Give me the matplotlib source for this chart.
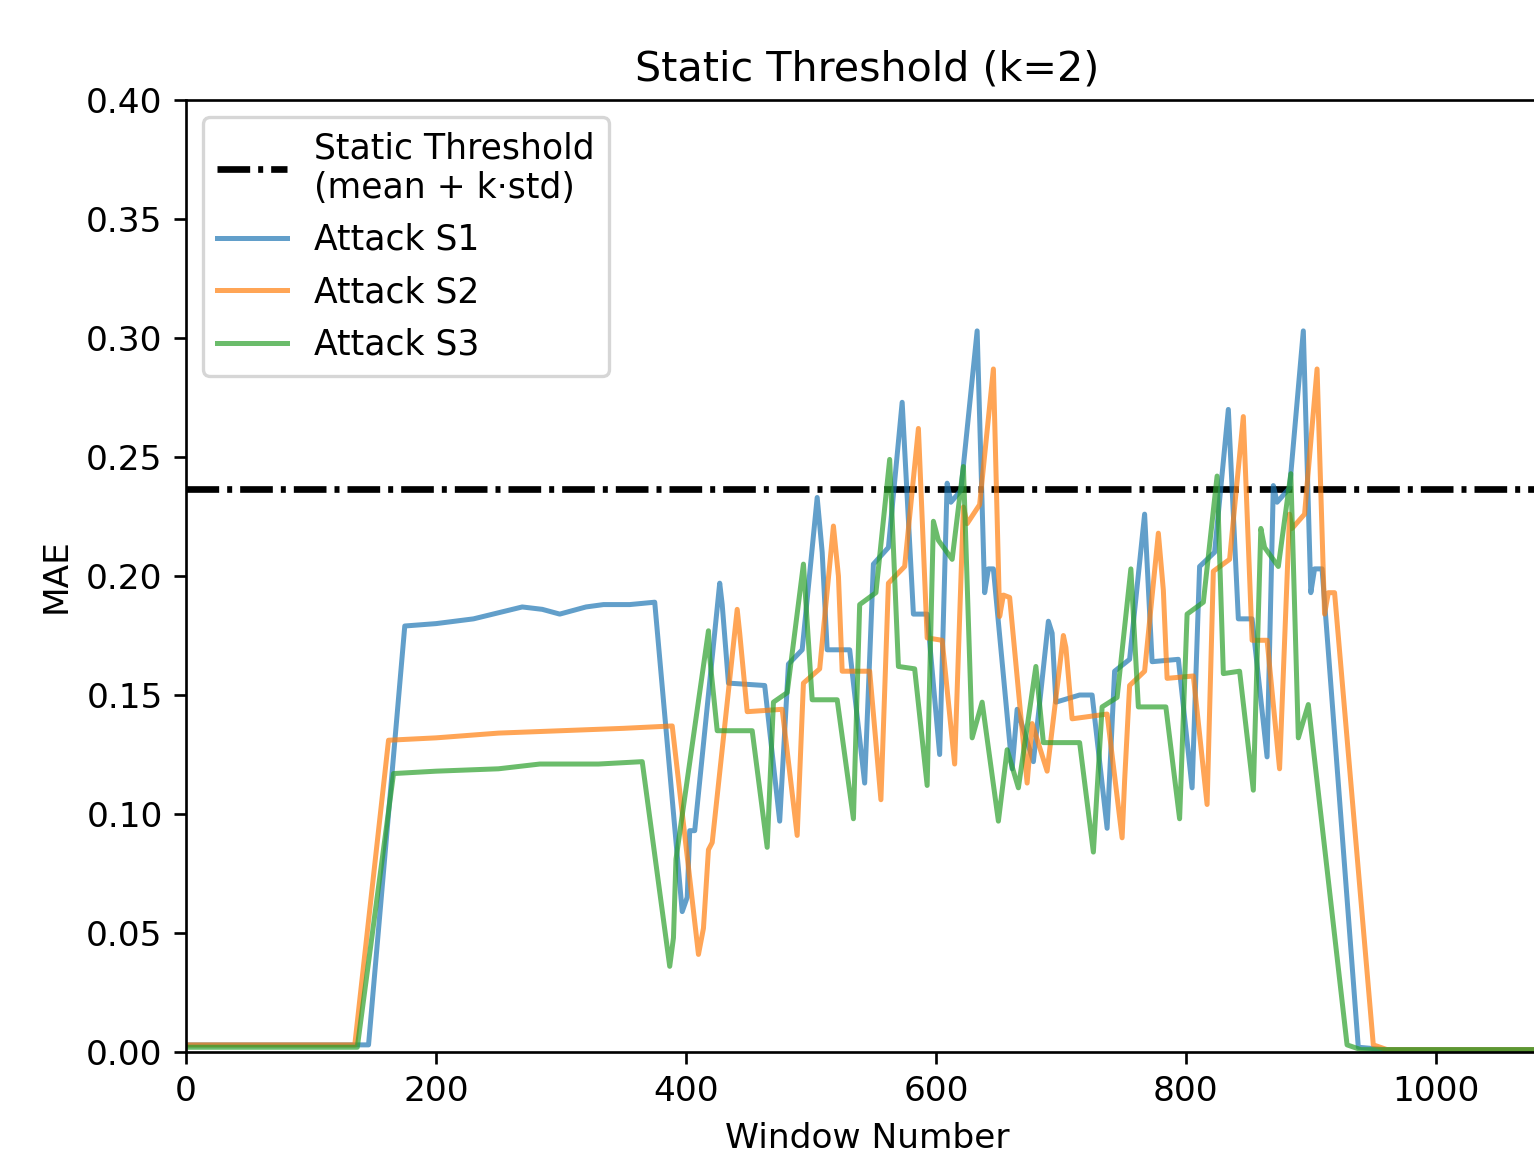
import matplotlib
matplotlib.use("Agg")
import matplotlib.pyplot as plt

# ---------------- DATA ----------------
threshold = 0.2366

s1_x = [0, 146, 175, 200, 230, 269, 285, 299, 320, 334, 355, 375, 397, 401, 403, 407,
        427, 429, 434, 463, 475, 482, 493, 505, 509, 513, 531, 543, 550, 562, 573, 582,
        593, 603, 609, 612, 620, 633, 639, 642, 646, 661, 665, 678, 690, 693, 696, 715,
        725, 737, 743, 755, 767, 773, 794, 805, 811, 823, 834, 842, 853, 865, 870, 873,
        883, 894, 900, 903, 909, 938, 960, 1089]
s1_y = [0.003, 0.003, 0.179, 0.180, 0.182, 0.187, 0.186, 0.184, 0.187, 0.188, 0.188, 0.189,
        0.059, 0.065, 0.093, 0.093, 0.197, 0.188, 0.155, 0.154, 0.097, 0.163, 0.169, 0.233,
        0.210, 0.169, 0.169, 0.113, 0.205, 0.212, 0.273, 0.184, 0.184, 0.125, 0.239, 0.231,
        0.236, 0.303, 0.193, 0.203, 0.203, 0.119, 0.144, 0.122, 0.181, 0.176, 0.147, 0.150,
        0.150, 0.094, 0.160, 0.165, 0.226, 0.164, 0.165, 0.111, 0.204, 0.210, 0.270, 0.182,
        0.182, 0.124, 0.238, 0.231, 0.237, 0.303, 0.193, 0.203, 0.203, 0.002, 0.001, 0.001]

s2_x = [0, 135, 162, 200, 250, 300, 350, 389, 410, 414, 418, 421, 441, 443, 449, 477,
        489, 494, 507, 518, 522, 525, 547, 556, 562, 575, 586, 593, 605, 615, 622, 625,
        635, 646, 651, 654, 659, 673, 677, 689, 702, 704, 709, 737, 749, 751, 755, 767,
        778, 782, 785, 806, 817, 822, 835, 846, 853, 865, 875, 883, 885, 895, 905, 911,
        914, 919, 950, 961, 1089]
s2_y = [0.003, 0.003, 0.131, 0.132, 0.134, 0.135, 0.136, 0.137, 0.041, 0.052, 0.085, 0.088,
        0.186, 0.176, 0.143, 0.144, 0.091, 0.155, 0.161, 0.221, 0.200, 0.160, 0.160, 0.106,
        0.197, 0.204, 0.262, 0.174, 0.173, 0.121, 0.229, 0.222, 0.230, 0.287, 0.183, 0.192,
        0.191, 0.113, 0.138, 0.118, 0.175, 0.170, 0.140, 0.142, 0.090, 0.114, 0.154, 0.160,
        0.218, 0.194, 0.157, 0.158, 0.104, 0.202, 0.207, 0.267, 0.173, 0.173, 0.119, 0.226,
        0.220, 0.226, 0.287, 0.184, 0.193, 0.193, 0.003, 0.001, 0.001]

s3_x = [0, 137, 166, 200, 250, 283, 330, 365, 387, 390, 392, 418, 419, 425, 453, 465,
        470, 481, 494, 501, 521, 534, 539, 552, 563, 570, 583, 593, 598, 602, 613, 622,
        629, 637, 650, 657, 666, 680, 686, 715, 726, 733, 745, 756, 762, 784, 795, 801,
        814, 825, 830, 843, 854, 860, 863, 874, 884, 890, 898, 929, 940, 1089]
s3_y = [0.002, 0.002, 0.117, 0.118, 0.119, 0.121, 0.121, 0.122, 0.036, 0.048, 0.081, 0.177,
        0.166, 0.135, 0.135, 0.086, 0.147, 0.151, 0.205, 0.148, 0.148, 0.098, 0.188, 0.193,
        0.249, 0.162, 0.161, 0.112, 0.223, 0.215, 0.207, 0.246, 0.132, 0.147, 0.097, 0.127,
        0.111, 0.162, 0.130, 0.130, 0.084, 0.145, 0.149, 0.203, 0.145, 0.145, 0.098, 0.184,
        0.189, 0.242, 0.159, 0.160, 0.110, 0.220, 0.212, 0.204, 0.243, 0.132, 0.146, 0.003,
        0.001, 0.001]

# ---------------- PLOT ----------------
fig = plt.figure(figsize=(1534 / 240, 1151 / 240), dpi=240)
ax = fig.add_axes([0.1213, 0.0860, 0.888, 0.8271])

ax.axhline(threshold, color="black", linestyle=(0, (4.9, 1.2, 0.75, 1.2)), linewidth=2,
           label="Static Threshold\n(mean + k·std)")
ax.plot(s1_x, s1_y, color="tab:blue", alpha=0.7, linewidth=1.5, label="Attack S1")
ax.plot(s2_x, s2_y, color="tab:orange", alpha=0.7, linewidth=1.5, label="Attack S2")
ax.plot(s3_x, s3_y, color="tab:green", alpha=0.7, linewidth=1.5, label="Attack S3")

ax.set_xlim(0, 1090)
ax.set_ylim(0, 0.40)
ax.set_title("Static Threshold (k=2)", fontsize=12.4)
ax.set_xlabel("Window Number", fontsize=10.3)
ax.set_ylabel("MAE", fontsize=10.3)
ax.tick_params(labelsize=10.3)
ax.legend(loc="upper left", fontsize=10.4, labelspacing=0.53)

fig.savefig("out.png", dpi=240)
